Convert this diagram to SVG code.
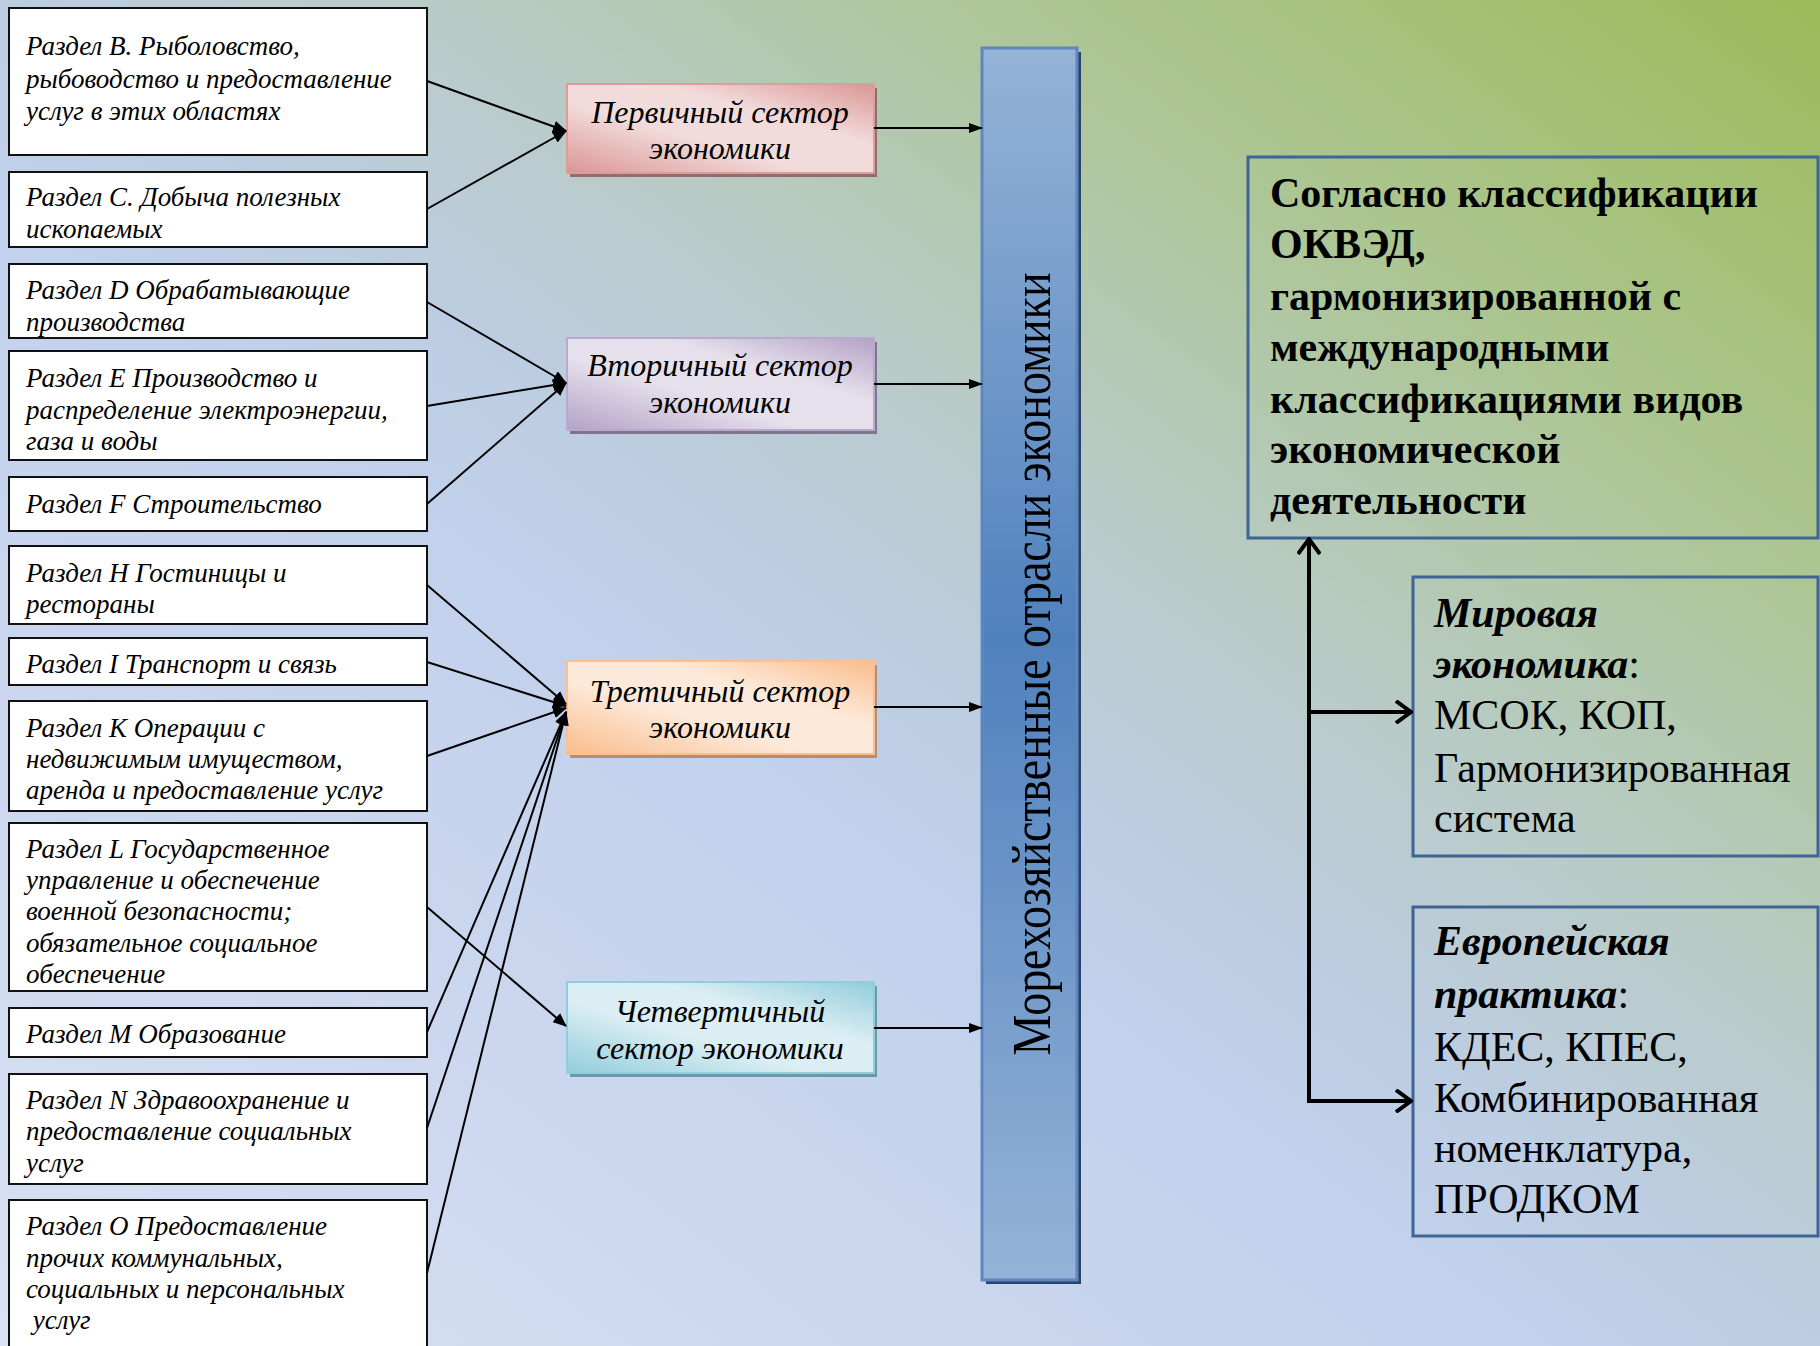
<svg xmlns="http://www.w3.org/2000/svg" width="1820" height="1346" viewBox="0 0 1820 1346">
<defs>
  <linearGradient id="bg" x1="1" y1="0" x2="0" y2="1">
    <stop offset="0" stop-color="#9bbb59"/>
    <stop offset="0.2" stop-color="#abc58e"/>
    <stop offset="0.38" stop-color="#b8cbc6"/>
    <stop offset="0.5" stop-color="#bdcde2"/>
    <stop offset="0.58" stop-color="#c2d1ec"/>
    <stop offset="0.78" stop-color="#cdd8ef"/>
    <stop offset="1" stop-color="#d9e2f3"/>
  </linearGradient>
  <linearGradient id="gP" x1="0" y1="1" x2="1" y2="0">
    <stop offset="0" stop-color="#da9694"/><stop offset="0.4" stop-color="#f2dcdb"/><stop offset="0.65" stop-color="#f2dcdb"/><stop offset="1" stop-color="#da9694"/>
  </linearGradient>
  <linearGradient id="gS" x1="0" y1="1" x2="1" y2="0">
    <stop offset="0" stop-color="#b3a2c7"/><stop offset="0.4" stop-color="#e6e0ec"/><stop offset="0.65" stop-color="#e6e0ec"/><stop offset="1" stop-color="#b3a2c7"/>
  </linearGradient>
  <linearGradient id="gT" x1="0" y1="1" x2="1" y2="0">
    <stop offset="0" stop-color="#f9bd8c"/><stop offset="0.4" stop-color="#fde9d9"/><stop offset="0.65" stop-color="#fde9d9"/><stop offset="1" stop-color="#f9bd8c"/>
  </linearGradient>
  <linearGradient id="gQ" x1="0" y1="1" x2="1" y2="0">
    <stop offset="0" stop-color="#92cddc"/><stop offset="0.4" stop-color="#dbeef3"/><stop offset="0.65" stop-color="#dbeef3"/><stop offset="1" stop-color="#92cddc"/>
  </linearGradient>
  <linearGradient id="gCol" x1="0" y1="0" x2="0" y2="1">
    <stop offset="0" stop-color="#95b3d7"/><stop offset="0.48" stop-color="#4f81bd"/><stop offset="1" stop-color="#95b3d7"/>
  </linearGradient>
  <marker id="ah" viewBox="0 0 14 12" refX="13" refY="6" markerWidth="14" markerHeight="12" markerUnits="userSpaceOnUse" orient="auto">
    <path d="M0,0 L14,6 L0,12 Z" fill="#000"/>
  </marker>
  <marker id="ah2" viewBox="0 0 14 10" refX="13" refY="5" markerWidth="14" markerHeight="10" markerUnits="userSpaceOnUse" orient="auto">
    <path d="M0,0 L14,5 L0,10 Z" fill="#000"/>
  </marker>
  <marker id="open" viewBox="0 0 18 24" refX="16" refY="12" markerWidth="18" markerHeight="24" markerUnits="userSpaceOnUse" orient="auto">
    <path d="M1,1 L16,12 L1,23" fill="none" stroke="#000" stroke-width="4"/>
  </marker>
  <clipPath id="clipD"><rect x="9" y="264" width="418" height="73"/></clipPath>
  <clipPath id="clipL"><rect x="9" y="823" width="418" height="167"/></clipPath>
  <style>
    .box{fill:#fff;stroke:#111;stroke-width:2}
    .lt{font-family:"Liberation Serif","Times New Roman",serif;font-style:italic;font-size:27px;fill:#000}
    .st{font-family:"Liberation Serif","Times New Roman",serif;font-style:italic;font-size:32px;fill:#000}
    .ct{font-family:"Liberation Serif","Times New Roman",serif;font-size:54px;fill:#000}
    .bt{font-family:"Liberation Serif","Times New Roman",serif;font-weight:bold;font-size:42px;fill:#000}
    .rt{font-family:"Liberation Serif","Times New Roman",serif;font-size:42px;fill:#000}
    .bi{font-weight:bold;font-style:italic}
    .rbox{fill:none;stroke:#3f6596;stroke-width:3}
    .con{stroke:#000;stroke-width:2;fill:none}
    .con4{stroke:#000;stroke-width:4;fill:none}
  </style>
</defs>
<rect x="0" y="0" width="1820" height="1346" fill="url(#bg)"/>

<g id="nB"><rect class="box" x="9" y="8" width="418" height="147"/>
  <text class="lt"><tspan x="26" y="55">Раздел B. Рыболовство,</tspan><tspan x="26" y="88">рыбоводство и предоставление</tspan><tspan x="26" y="120">услуг в этих областях</tspan></text></g>
<g id="nC"><rect class="box" x="9" y="172" width="418" height="75"/>
  <text class="lt"><tspan x="26" y="206">Раздел C. Добыча полезных</tspan><tspan x="26" y="238">ископаемых</tspan></text></g>
<g id="nD"><rect class="box" x="9" y="264" width="418" height="74"/>
  <text class="lt" clip-path="url(#clipD)"><tspan x="26" y="299">Раздел D Обрабатывающие</tspan><tspan x="26" y="331">производства</tspan></text></g>
<g id="nE"><rect class="box" x="9" y="351" width="418" height="109"/>
  <text class="lt"><tspan x="26" y="387">Раздел E Производство и</tspan><tspan x="26" y="419">распределение электроэнергии,</tspan><tspan x="26" y="450">газа и воды</tspan></text></g>
<g id="nF"><rect class="box" x="9" y="477" width="418" height="54"/>
  <text class="lt"><tspan x="26" y="513">Раздел F Строительство</tspan></text></g>
<g id="nH"><rect class="box" x="9" y="546" width="418" height="78"/>
  <text class="lt"><tspan x="26" y="582">Раздел H Гостиницы и</tspan><tspan x="26" y="613">рестораны</tspan></text></g>
<g id="nI"><rect class="box" x="9" y="638" width="418" height="47"/>
  <text class="lt"><tspan x="26" y="673">Раздел I Транспорт и связь</tspan></text></g>
<g id="nK"><rect class="box" x="9" y="701" width="418" height="110"/>
  <text class="lt"><tspan x="26" y="737">Раздел K Операции с</tspan><tspan x="26" y="768">недвижимым имуществом,</tspan><tspan x="26" y="799">аренда и предоставление услуг</tspan></text></g>
<g id="nL"><rect class="box" x="9" y="823" width="418" height="168"/>
  <text class="lt" clip-path="url(#clipL)"><tspan x="26" y="858">Раздел L Государственное</tspan><tspan x="26" y="889">управление и обеспечение</tspan><tspan x="26" y="920">военной безопасности;</tspan><tspan x="26" y="952">обязательное социальное</tspan><tspan x="26" y="983">обеспечение</tspan></text></g>
<g id="nM"><rect class="box" x="9" y="1008" width="418" height="49"/>
  <text class="lt"><tspan x="26" y="1043">Раздел M Образование</tspan></text></g>
<g id="nN"><rect class="box" x="9" y="1074" width="418" height="110"/>
  <text class="lt"><tspan x="26" y="1109">Раздел N Здравоохранение и</tspan><tspan x="26" y="1140">предоставление социальных</tspan><tspan x="26" y="1172">услуг</tspan></text></g>
<g id="nO"><rect class="box" x="9" y="1200" width="418" height="160"/>
  <text class="lt"><tspan x="26" y="1235">Раздел O Предоставление</tspan><tspan x="26" y="1267">прочих коммунальных,</tspan><tspan x="26" y="1298">социальных и персональных</tspan><tspan x="26" y="1329"> услуг</tspan></text></g>

<g id="sP"><rect x="570" y="88" width="307" height="89" fill="#8f6e6d"/><rect x="567" y="84" width="307" height="89" fill="url(#gP)" stroke="#dc9d9b" stroke-width="2"/>
  <text class="st" text-anchor="middle"><tspan x="720" y="123">Первичный сектор</tspan><tspan x="720" y="159">экономики</tspan></text></g>
<g id="sS"><rect x="570" y="342" width="307" height="92" fill="#7f7590"/><rect x="567" y="338" width="307" height="92" fill="url(#gS)" stroke="#b9a9cc" stroke-width="2"/>
  <text class="st" text-anchor="middle"><tspan x="720" y="376">Вторичный сектор</tspan><tspan x="720" y="413">экономики</tspan></text></g>
<g id="sT"><rect x="570" y="665" width="307" height="93" fill="#b58d76"/><rect x="567" y="661" width="307" height="93" fill="url(#gT)" stroke="#fac08f" stroke-width="2"/>
  <text class="st" text-anchor="middle"><tspan x="720" y="702">Третичный сектор</tspan><tspan x="720" y="738">экономики</tspan></text></g>
<g id="sQ"><rect x="570" y="986" width="307" height="91" fill="#6a9aa7"/><rect x="567" y="982" width="307" height="91" fill="url(#gQ)" stroke="#93cddd" stroke-width="2"/>
  <text class="st" text-anchor="middle"><tspan x="720" y="1022">Четвертичный</tspan><tspan x="720" y="1059">сектор экономики</tspan></text></g>

<g id="column"><rect x="986" y="52" width="95" height="1232" fill="#2a4366"/><rect x="982" y="48" width="95" height="1232" fill="url(#gCol)" stroke="#5d87c0" stroke-width="3"/>
  <text class="ct" transform="translate(1050,664) rotate(-90)" text-anchor="middle" textLength="783" lengthAdjust="spacingAndGlyphs">Морехозяйственные отрасли экономики</text></g>

<g id="okved"><rect class="rbox" x="1248" y="157" width="570" height="381"/>
  <text class="bt"><tspan x="1270" y="207">Согласно классификации</tspan><tspan x="1270" y="258">ОКВЭД,</tspan><tspan x="1270" y="310">гармонизированной с</tspan><tspan x="1270" y="361">международными</tspan><tspan x="1270" y="413">классификациями видов</tspan><tspan x="1270" y="463">экономической</tspan><tspan x="1270" y="514">деятельности</tspan></text></g>
<g id="world"><rect class="rbox" x="1413" y="577" width="405" height="279"/>
  <text class="rt"><tspan x="1434" y="627" class="bi">Мировая</tspan><tspan x="1434" y="678" class="bi">экономика</tspan><tspan>:</tspan><tspan x="1434" y="729">МСОК, КОП,</tspan><tspan x="1434" y="782">Гармонизированная</tspan><tspan x="1434" y="832">система</tspan></text></g>
<g id="europe"><rect class="rbox" x="1413" y="907" width="405" height="329"/>
  <text class="rt"><tspan x="1434" y="955" class="bi">Европейская</tspan><tspan x="1434" y="1008" class="bi">практика</tspan><tspan>:</tspan><tspan x="1434" y="1061">КДЕС, КПЕС,</tspan><tspan x="1434" y="1112">Комбинированная</tspan><tspan x="1434" y="1162">номенклатура,</tspan><tspan x="1434" y="1213">ПРОДКОМ</tspan></text></g>

<g id="connectors">
  <line class="con" x1="427" y1="81" x2="566" y2="131" marker-end="url(#ah)"/>
  <line class="con" x1="427" y1="209" x2="566" y2="131" marker-end="url(#ah)"/>
  <line class="con" x1="427" y1="302" x2="566" y2="383" marker-end="url(#ah)"/>
  <line class="con" x1="427" y1="406" x2="566" y2="383" marker-end="url(#ah)"/>
  <line class="con" x1="427" y1="504" x2="566" y2="383" marker-end="url(#ah)"/>
  <line class="con" x1="427" y1="585" x2="566" y2="704" marker-end="url(#ah)"/>
  <line class="con" x1="427" y1="662" x2="566" y2="706" marker-end="url(#ah)"/>
  <line class="con" x1="427" y1="756" x2="566" y2="708" marker-end="url(#ah)"/>
  <line class="con" x1="427" y1="907" x2="566" y2="1026" marker-end="url(#ah)"/>
  <line class="con" x1="427" y1="1032" x2="566" y2="712" marker-end="url(#ah)"/>
  <line class="con" x1="427" y1="1128" x2="566" y2="712" marker-end="url(#ah)"/>
  <line class="con" x1="427" y1="1273" x2="566" y2="712" marker-end="url(#ah)"/>
  <line class="con" x1="874" y1="128" x2="982" y2="128" marker-end="url(#ah2)"/>
  <line class="con" x1="874" y1="384" x2="982" y2="384" marker-end="url(#ah2)"/>
  <line class="con" x1="874" y1="707" x2="982" y2="707" marker-end="url(#ah2)"/>
  <line class="con" x1="874" y1="1028" x2="982" y2="1028" marker-end="url(#ah2)"/>
  <line class="con4" x1="1309" y1="1103" x2="1309" y2="539" marker-end="url(#open)"/>
  <line class="con4" x1="1307" y1="712" x2="1411" y2="712" marker-end="url(#open)"/>
  <line class="con4" x1="1307" y1="1101" x2="1411" y2="1101" marker-end="url(#open)"/>
</g>
</svg>
